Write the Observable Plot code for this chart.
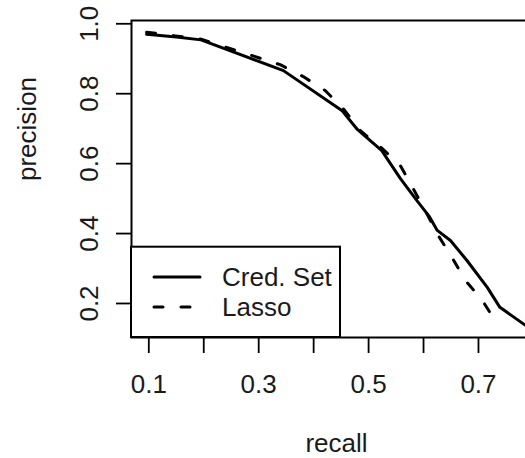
<!DOCTYPE html>
<html>
<head>
<meta charset="utf-8">
<script src="https://cdn.jsdelivr.net/npm/d3@7"></script>
<script src="https://cdn.jsdelivr.net/npm/@observablehq/plot@0.6"></script>
<style>
html, body { margin: 0; padding: 0; overflow: hidden; background: #fff; }
#chart { width: 525px; height: 458px; overflow: hidden; }
#chart svg { max-width: none !important; }
</style>
</head>
<body>
<div id="chart"></div>
<script>
// Series
const seriesNames = ["Cred. Set", "Lasso"];
const credRecall    = [0.096, 0.150, 0.195, 0.345, 0.452, 0.480, 0.524, 0.558, 0.588, 0.610, 0.625, 0.649, 0.679, 0.716, 0.739, 0.787];
const credPrecision = [0.970, 0.962, 0.954, 0.866, 0.751, 0.697, 0.637, 0.557, 0.494, 0.450, 0.409, 0.380, 0.323, 0.246, 0.189, 0.136];
const lassoRecall    = [0.096, 0.195, 0.294, 0.339, 0.381, 0.421, 0.454, 0.485, 0.525, 0.558, 0.581, 0.605, 0.627, 0.652, 0.676, 0.707, 0.736];
const lassoPrecision = [0.976, 0.956, 0.906, 0.883, 0.849, 0.809, 0.757, 0.694, 0.643, 0.594, 0.529, 0.460, 0.394, 0.331, 0.266, 0.209, 0.136];
const xTicks = [0.1, 0.2, 0.3, 0.4, 0.5, 0.6, 0.7];
const xTickLabels = ["0.1", "", "0.3", "", "0.5", "", "0.7"];
const yTicks = [0.2, 0.4, 0.6, 0.8, 1.0];
const yTickLabels = ["0.2", "0.4", "0.6", "0.8", "1.0"];
const xTitle = "recall";
const yTitle = "precision";

const cred = credRecall.map((r, i) => ({recall: r, precision: credPrecision[i], series: seriesNames[0]}));
const lasso = lassoRecall.map((r, i) => ({recall: r, precision: lassoPrecision[i], series: seriesNames[1]}));
const xLab = new Map(xTicks.map((t, i) => [t, xTickLabels[i]]));
const yLab = new Map(yTicks.map((t, i) => [t, yTickLabels[i]]));

const font = "'Liberation Sans', Arial, Helvetica, sans-serif";
const dash = "9,18";

const chart = Plot.plot({
  width: 541,
  height: 458,
  marginLeft: 131,
  marginRight: 0,
  marginTop: 20,
  marginBottom: 121,
  style: {fontFamily: font, fontSize: "26px", color: "#000", background: "#fff", overflow: "visible", maxWidth: "none"},
  x: {domain: [0.0685, 0.8147]},
  y: {domain: [0.1027, 1.0094]},
  marks: [
    Plot.line(cred, {x: "recall", y: "precision", stroke: "#000", strokeWidth: 3, strokeLinejoin: "round", strokeLinecap: "round", clip: true}),
    Plot.line(lasso, {x: "recall", y: "precision", stroke: "#000", strokeWidth: 3, strokeDasharray: dash, strokeLinejoin: "round", strokeLinecap: "round", clip: true}),
    Plot.frame({stroke: "#000", strokeWidth: 2}),
    Plot.axisX({ticks: xTicks, tickFormat: d => xLab.get(d), tickSize: 16, tickPadding: 21, strokeWidth: 1.8, stroke: "#000", fill: "#1a1a1a", fontSize: 26, label: null}),
    Plot.axisY({ticks: yTicks, tickFormat: d => yLab.get(d), tickSize: 15, tickPadding: 19, tickRotate: -90, textAnchor: "middle", lineAnchor: "bottom", strokeWidth: 1.8, stroke: "#000", fill: "#1a1a1a", fontSize: 26, label: null}),
    Plot.text([xTitle], {text: d => d, frameAnchor: "bottom", dy: 106, lineAnchor: "middle", fontSize: 26, fill: "#1a1a1a"}),
    Plot.text([yTitle], {text: d => d, frameAnchor: "left", dx: -104, dy: 2, rotate: -90, lineAnchor: "middle", fontSize: 26, fill: "#1a1a1a"})
  ]
});
chart.style.maxWidth = "none";
document.getElementById("chart").append(chart);

// Legend (drawn into the plot's SVG, anchored to the bottom-left of the frame)
const svg = d3.select(chart);
const x0 = 131, yb = 337;
const lg = svg.append("g").attr("font-family", font).attr("font-size", 26).attr("text-anchor", "start");
lg.append("rect").attr("x", x0).attr("y", yb - 90.3).attr("width", 209).attr("height", 90.3)
  .attr("fill", "#fff").attr("stroke", "#000").attr("stroke-width", 2);
seriesNames.forEach((name, i) => {
  const cy = yb - 60 + i * 30;
  lg.append("line").attr("x1", x0 + 23).attr("x2", x0 + 69).attr("y1", cy).attr("y2", cy)
    .attr("stroke", "#000").attr("stroke-width", 3).attr("stroke-linecap", "round")
    .attr("stroke-dasharray", i === 1 ? dash : null);
  lg.append("text").attr("x", x0 + 91).attr("y", cy).attr("dy", "0.35em").attr("fill", "#1a1a1a").text(name);
});
</script>
</body>
</html>
